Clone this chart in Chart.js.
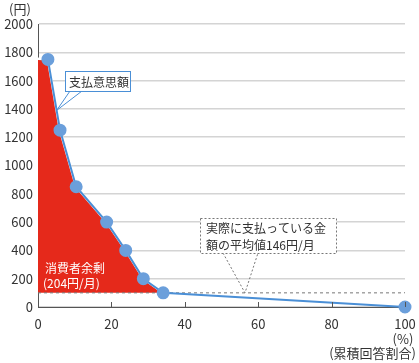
<!DOCTYPE html>
<html>
<head>
<meta charset="utf-8">
<script src="https://cdn.jsdelivr.net/npm/chart.js@4"></script>
<style>
  html, body { margin: 0; padding: 0; background: #fff; }
  #wrap { width: 419px; height: 363px; }
</style>
</head>
<body>
<div id="wrap"><canvas id="chart" width="419" height="363"></canvas></div>
<script>
// cumulative share of respondents (%) and willingness to pay (円)
const cumShare = [2.7, 6.0, 10.4, 18.7, 23.9, 28.7, 34.1, 100];
const willingness = [1750, 1250, 850, 600, 400, 200, 100, 0];
// consumer surplus area (red), starts at the y axis
const surplusShare = [0, 2.7, 6.0, 10.4, 18.7, 23.9, 28.7, 34.1];
const surplusValue = [1755, 1750, 1250, 850, 600, 400, 200, 100];
// average actually paid (drawn level)
const avgPaid = 100;
const xTicks = [0, 20, 40, 60, 80, 100];
const yTicks = [0, 200, 400, 600, 800, 1000, 1200, 1400, 1600, 1800, 2000];

const FONT = "'Noto Sans CJK JP', 'Noto Sans', sans-serif";

const pts = (xs, ys) => xs.map((x, i) => ({ x: x, y: ys[i] }));

const notes = {
  id: "notes",
  afterDraw(chart) {
    const { ctx, scales: { x, y }, chartArea } = chart;
    ctx.save();

    // x tick marks (inside)
    ctx.strokeStyle = "#555";
    ctx.lineWidth = 1;
    xTicks.forEach(v => {
      const px = Math.round(x.getPixelForValue(v)) + 0.5;
      ctx.beginPath();
      ctx.moveTo(px, chartArea.bottom);
      ctx.lineTo(px, chartArea.bottom - 5);
      ctx.stroke();
    });

    ctx.fillStyle = "#333";
    ctx.font = "13px " + FONT;
    ctx.textBaseline = "middle";
    ctx.textAlign = "center";
    ctx.fillText("(円)", 20, 9);
    ctx.fillText("(%)", 403, 339);
    ctx.textAlign = "right";
    ctx.fillText("(累積回答割合)", 416, 353);

    // 支払意思額 callout
    const tipX = x.getPixelForValue(5.1), tipY = y.getPixelForValue(1390);
    ctx.strokeStyle = "#4a8fd6";
    ctx.lineWidth = 1;
    ctx.beginPath();
    ctx.moveTo(70, 91); ctx.lineTo(tipX, tipY); ctx.lineTo(82, 91);
    ctx.stroke();
    ctx.fillStyle = "#fff";
    ctx.fillRect(65.5, 71.5, 65, 20);
    ctx.strokeRect(65.5, 71.5, 65, 20);
    ctx.fillStyle = "#333";
    ctx.font = "12px " + FONT;
    ctx.textAlign = "left";
    ctx.fillText("支払意思額", 69, 82);

    // average paid callout
    const t2x = x.getPixelForValue(56.4), t2y = y.getPixelForValue(avgPaid);
    ctx.strokeStyle = "#777";
    ctx.setLineDash([2, 2]);
    ctx.beginPath();
    ctx.moveTo(223, 253); ctx.lineTo(t2x, t2y); ctx.lineTo(258, 253);
    ctx.stroke();
    ctx.fillStyle = "#fff";
    ctx.fillRect(200.5, 218.5, 136, 35);
    ctx.strokeRect(200.5, 218.5, 136, 35);
    ctx.setLineDash([]);
    ctx.fillStyle = "#333";
    ctx.fillText("実際に支払っている金", 206, 228);
    ctx.fillText("額の平均値146円/月", 206, 245);

    // consumer surplus label
    ctx.fillStyle = "#fff";
    ctx.font = "12px " + FONT;
    ctx.fillText("消費者余剰", 45, 268);
    ctx.fillText("(204円/月)", 43, 283);

    ctx.restore();
  }
};

new Chart(document.getElementById("chart"), {
  type: "line",
  data: {
    datasets: [
      {
        label: "消費者余剰",
        data: pts(surplusShare, surplusValue),
        backgroundColor: "#e5291b",
        borderColor: "#ffffff",
        borderWidth: 2.5,
        pointRadius: 0,
        fill: { value: avgPaid },
        order: 3,
      },
      {
        label: "平均値",
        data: pts([0, 100], [avgPaid, avgPaid]),
        borderColor: "#777",
        borderWidth: 1,
        borderDash: [3, 3],
        pointRadius: 0,
        fill: false,
        order: 2,
      },
      {
        label: "支払意思額",
        data: pts(cumShare, willingness),
        borderColor: "#4a8fd6",
        borderWidth: 2,
        backgroundColor: "#6b9fdb",
        pointBackgroundColor: "#6b9fdb",
        pointBorderColor: "#6b9fdb",
        pointRadius: 5.5,
        fill: false,
        clip: false,
        order: 1,
      },
    ],
  },
  options: {
    responsive: false,
    animation: false,
    layout: { padding: { left: 0, right: 14, top: 24, bottom: 0 } },
    plugins: { legend: { display: false }, tooltip: { enabled: false } },
    scales: {
      x: {
        type: "linear",
        min: 0,
        max: 100,
        afterBuildTicks: s => { s.ticks = xTicks.map(v => ({ value: v })); },
        afterFit: s => { s.height = 56; s.paddingLeft = 0; s.paddingRight = 0; },
        grid: { display: true, drawOnChartArea: false, drawTicks: false },
        border: { color: "#555", width: 1 },
        ticks: { color: "#333", font: { family: FONT, size: 13 }, padding: 9 },
      },
      y: {
        min: 0,
        max: 2000,
        afterBuildTicks: s => { s.ticks = yTicks.map(v => ({ value: v })); },
        afterFit: s => { s.width = 38; s.paddingTop = 0; s.paddingBottom = 0; },
        grid: { color: "#d4d4d4", lineWidth: 1.5, drawTicks: false },
        border: { color: "#555", width: 1 },
        ticks: {
          color: "#333",
          font: { family: FONT, size: 13 },
          padding: 5,
          callback: v => String(v),
        },
      },
    },
  },
  plugins: [notes],
});
</script>
</body>
</html>
